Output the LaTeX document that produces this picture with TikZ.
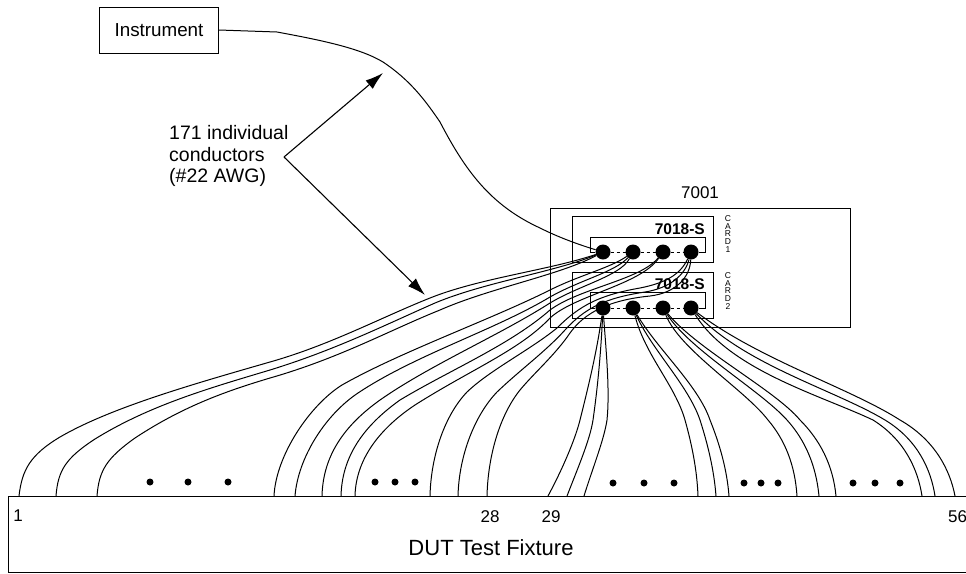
\documentclass[tikz,border=0pt]{standalone}
\usepackage{fontspec}
\setmainfont{Liberation Sans}
\usetikzlibrary{arrows.meta,positioning}

\begin{document}
\begin{tikzpicture}[
  x=1pt, y=-1pt,
  every node/.style={align=center},
  box/.style={draw=black, line width=1pt, rectangle, inner sep=0pt},
  frame/.style={draw=black, line width=1pt},
  wire/.style={draw=black, line width=1pt},
  conn/.style={circle, fill=black, inner sep=0pt, minimum size=15pt},
  gap/.style={circle, fill=black, inner sep=0pt, minimum size=7pt},
  lbl/.style={font=\fontsize{19.5}{21.5}\selectfont, inner sep=0pt},
  pin/.style={font=\fontsize{17}{20}\selectfont, inner sep=0pt},
  card/.style={font=\fontsize{15.5}{18}\selectfont\bfseries, inner sep=0pt, anchor=east},
  slot/.style={font=\fontsize{8.5}{7.6}\selectfont, inner sep=0pt},
  arr/.style={-{Latex[length=18pt,width=11pt]}, line width=1.1pt}
]
\useasboundingbox (0,0) rectangle (966,573);

% Instrument and callout
\node[box, minimum width=119pt, minimum height=46pt, font=\fontsize{18.8}{22}\selectfont] (inst) at (159,30) {Instrument};
\node[lbl, anchor=west, align=left] (count) at (169,156) {171 individual\\conductors\\(\#22 AWG)};
\coordinate (split) at (284,157);
\coordinate (tipa) at (383,73);
\coordinate (tipb) at (425,295);
\draw[arr] (split) -- (tipa);
\draw[arr] (split) -- (tipb);

% 7001 mainframe and the two cards
\node[box, minimum width=300pt, minimum height=119pt] (main) at (700,267.5) {};
\node[pin, above=9pt of main.north] (mainlbl) {7001};
\node[box, minimum width=141pt, minimum height=46pt] (cardA) at (642.5,239) {};
\node[box, minimum width=141pt, minimum height=46pt] (cardB) at (642.5,295) {};
\node[slot] (slotA) at (728,234) {C\\A\\R\\D\\1};
\node[slot] (slotB) at (728,291) {C\\A\\R\\D\\2};

% Connectors on the cards
\foreach \n/\x in {a/603,b/633,c/663,d/691} {
  \node[conn] (up\n) at (\x,252) {};
  \node[conn] (lo\n) at (\x,308) {};
}
\draw[frame] (upa) -- (590,252) |- (705,237) |- (upd);
\draw[frame] (loa) -- (590,308) |- (705,292) |- (lod);
\draw[thin, dashed] (upa) -- (upd);
\draw[thin, dashed] (loa) -- (lod);
\node[card] (nameA) at (705,229) {7018-S};
\node[card] (nameB) at (705,284) {7018-S};

% DUT fixture, open on the right
\draw[frame] (966,496) -- (8,496) -- (8,572) -- (966,572);
\node[font=\fontsize{22}{24}\selectfont, inner sep=0pt] (dut) at (491,548) {DUT Test Fixture};
\node[pin] (pinA) at (18,516) {1};
\node[pin] (pinB) at (490,517) {28};
\node[pin] (pinC) at (551,517) {29};
\node[pin, anchor=west] (pinD) at (948,517) {56};

% Gaps between the wire groups
\foreach \x/\y in {150/482,188/482,228/482,375/482,395/482,415/482,613/483,644/483,674/483,744/483,761/483,778/483,853/483,875/483,900/483} {
  \node[gap] at (\x,\y) {};
}

% Wire ends on the fixture
\foreach \n/\x in {1/19,2/56,3/97,4/274,5/295,6/322,7/341,8/355,9/430,10/458,11/487,12/548,13/567,14/584,15/698,16/716,17/729,18/797,19/819,20/836,21/922,22/935,23/955} {
  \coordinate (f\n) at (\x,496);
}

% Instrument lead
\draw[wire] (inst.east) -- (277,32) .. controls (320,40) and (360,48) .. (383,62) .. controls (410,80) and (425,100) .. (440,122) .. controls (465,170) and (490,205) .. (540,228) .. controls (560,238) and (580,245) .. (upa);

% Wires to card 1
\draw[wire] (f1) .. controls (22,470) and (30,455) .. (60,437) .. controls (110,408) and (190,385) .. (270,362) .. controls (330,345) and (380,318) .. (430,298) .. controls (480,278) and (550,270) .. (upa);
\draw[wire] (f2) .. controls (58,470) and (66,458) .. (95,439) .. controls (150,405) and (210,388) .. (270,370) .. controls (335,350) and (385,325) .. (435,303) .. controls (485,282) and (555,272) .. (upa);
\draw[wire] (f3) .. controls (99,470) and (107,458) .. (135,438) .. controls (185,405) and (230,390) .. (270,378) .. controls (340,358) and (390,330) .. (440,310) .. controls (490,288) and (560,275) .. (upa);
\draw[wire] (f4) .. controls (276,455) and (310,405) .. (342,385) .. controls (400,352) and (490,320) .. (550,290) .. controls (580,275) and (610,268) .. (upb);
\draw[wire] (f5) .. controls (298,458) and (325,415) .. (358,393) .. controls (415,355) and (495,330) .. (550,297) .. controls (580,280) and (615,272) .. (upb);
\draw[wire] (f6) .. controls (323,455) and (345,425) .. (380,400) .. controls (430,365) and (500,335) .. (550,303) .. controls (580,285) and (620,276) .. (upb);
\draw[wire] (f7) .. controls (342,455) and (365,425) .. (400,400) .. controls (450,370) and (510,345) .. (550,310) .. controls (580,288) and (640,280) .. (upc);
\draw[wire] (f8) .. controls (356,455) and (385,425) .. (415,405) .. controls (470,370) and (520,350) .. (550,318) .. controls (575,295) and (640,285) .. (upc);
\draw[wire] (f9) .. controls (431,455) and (445,415) .. (467,392) .. controls (490,370) and (530,350) .. (557,328) .. controls (580,305) and (600,295) .. (640,288) .. controls (665,283) and (680,275) .. (upd);
\draw[wire] (f10) .. controls (459,455) and (475,415) .. (497,392) .. controls (520,370) and (545,352) .. (565,330) .. controls (585,308) and (605,298) .. (645,292) .. controls (670,288) and (685,275) .. (upd);
\draw[wire] (f11) .. controls (488,455) and (500,415) .. (520,390) .. controls (535,372) and (555,355) .. (570,333) .. controls (585,312) and (610,300) .. (650,296) .. controls (675,293) and (690,278) .. (upd);

% Wires to card 2
\draw[wire] (f12) .. controls (562,470) and (575,440) .. (580,420) .. controls (590,380) and (597,350) .. (loa);
\draw[wire] (f13) .. controls (577,470) and (590,440) .. (593,420) .. controls (598,385) and (601,350) .. (loa);
\draw[wire] (f14) .. controls (592,470) and (604,440) .. (607,420) .. controls (610,390) and (606,350) .. (loa);
\draw[wire] (f15) .. controls (697,470) and (692,445) .. (685,420) .. controls (675,385) and (645,355) .. (lob);
\draw[wire] (f16) .. controls (714,470) and (708,445) .. (700,420) .. controls (688,385) and (652,350) .. (lob);
\draw[wire] (f17) .. controls (727,470) and (720,445) .. (710,420) .. controls (698,385) and (658,350) .. (lob);
\draw[wire] (f18) .. controls (795,465) and (785,440) .. (768,420) .. controls (745,390) and (680,350) .. (loc);
\draw[wire] (f19) .. controls (816,465) and (805,440) .. (787,420) .. controls (760,390) and (690,350) .. (loc);
\draw[wire] (f20) .. controls (833,465) and (820,440) .. (800,420) .. controls (775,390) and (698,350) .. (loc);
\draw[wire] (f21) .. controls (918,470) and (905,440) .. (873,420) .. controls (820,395) and (730,370) .. (lod);
\draw[wire] (f22) .. controls (931,470) and (918,440) .. (885,420) .. controls (835,390) and (745,365) .. (lod);
\draw[wire] (f23) .. controls (950,470) and (935,440) .. (900,420) .. controls (850,388) and (760,360) .. (lod);

\end{tikzpicture}
\end{document}
